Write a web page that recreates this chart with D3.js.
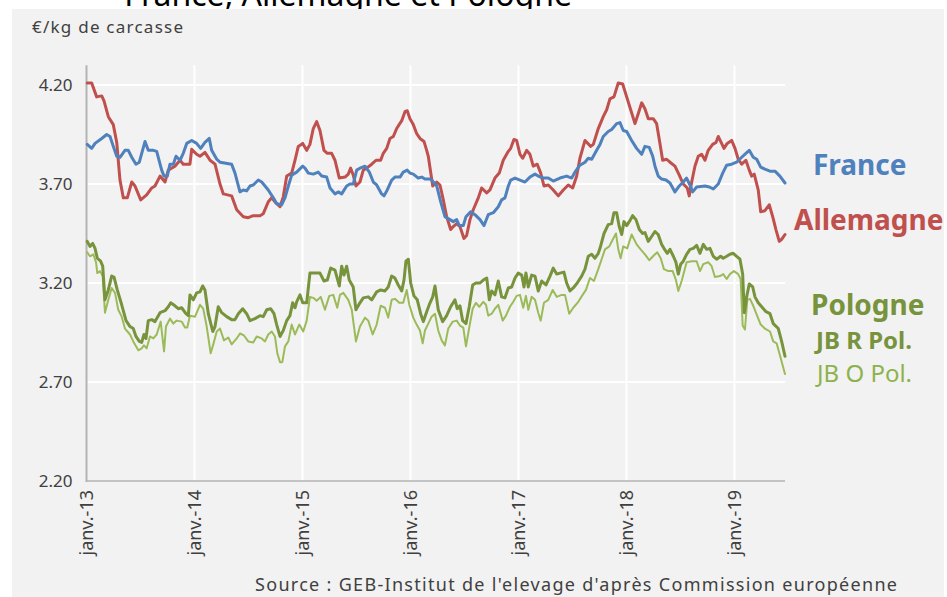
<!DOCTYPE html>
<html><head><meta charset="utf-8">
<script src="https://cdn.jsdelivr.net/npm/d3@7/dist/d3.min.js"></script>
<style>
html,body{margin:0;padding:0;background:#ffffff;}
svg{display:block;font-family:"Noto Sans",sans-serif;}
</style></head>
<body>
<svg id="chart" width="947" height="597"></svg>
<script>
// ---- data (decimal year, €/kg carcasse) ----
const yearTicks = [2013, 2014, 2015, 2016, 2017, 2018, 2019];
const yTicks = [2.20, 2.70, 3.20, 3.70, 4.20];
const seriesNames = ["France", "Allemagne", "Pologne", "JB R Pol.", "JB O Pol."];

const france = [[2013.007,3.90],[2013.048,3.88],[2013.079,3.905],[2013.141,3.93],[2013.187,3.95],[2013.218,3.94],[2013.248,3.89],[2013.280,3.84],[2013.310,3.835],[2013.356,3.87],[2013.387,3.87],[2013.419,3.835],[2013.458,3.80],[2013.489,3.81],[2013.542,3.915],[2013.572,3.87],[2013.619,3.87],[2013.650,3.865],[2013.696,3.77],[2013.718,3.74],[2013.748,3.74],[2013.773,3.80],[2013.804,3.80],[2013.829,3.84],[2013.866,3.82],[2013.896,3.855],[2013.928,3.905],[2013.974,3.92],[2014.020,3.905],[2014.057,3.88],[2014.097,3.91],[2014.137,3.93],[2014.159,3.87],[2014.206,3.825],[2014.236,3.81],[2014.344,3.80],[2014.375,3.755],[2014.421,3.66],[2014.452,3.67],[2014.483,3.665],[2014.514,3.69],[2014.544,3.695],[2014.591,3.72],[2014.622,3.71],[2014.653,3.69],[2014.683,3.67],[2014.730,3.63],[2014.761,3.60],[2014.807,3.595],[2014.838,3.63],[2014.869,3.69],[2014.900,3.745],[2014.946,3.76],[2015.002,3.79],[2015.023,3.78],[2015.054,3.755],[2015.100,3.75],[2015.146,3.76],[2015.178,3.74],[2015.224,3.735],[2015.255,3.68],[2015.301,3.65],[2015.331,3.66],[2015.363,3.65],[2015.409,3.69],[2015.440,3.70],[2015.470,3.70],[2015.502,3.77],[2015.532,3.78],[2015.579,3.79],[2015.619,3.76],[2015.656,3.71],[2015.687,3.695],[2015.733,3.65],[2015.755,3.64],[2015.785,3.67],[2015.826,3.72],[2015.856,3.735],[2015.903,3.735],[2015.933,3.76],[2015.970,3.77],[2015.995,3.755],[2016.026,3.75],[2016.072,3.73],[2016.104,3.735],[2016.134,3.725],[2016.181,3.725],[2016.196,3.72],[2016.243,3.69],[2016.280,3.61],[2016.319,3.535],[2016.366,3.52],[2016.396,3.51],[2016.428,3.52],[2016.452,3.49],[2016.489,3.49],[2016.514,3.535],[2016.557,3.56],[2016.597,3.545],[2016.644,3.52],[2016.681,3.49],[2016.720,3.545],[2016.767,3.555],[2016.813,3.585],[2016.844,3.62],[2016.875,3.63],[2016.906,3.69],[2016.928,3.72],[2016.968,3.73],[2017.014,3.72],[2017.060,3.71],[2017.106,3.735],[2017.153,3.75],[2017.183,3.74],[2017.230,3.73],[2017.276,3.73],[2017.322,3.715],[2017.384,3.73],[2017.446,3.74],[2017.493,3.73],[2017.523,3.76],[2017.569,3.795],[2017.616,3.81],[2017.646,3.83],[2017.678,3.825],[2017.724,3.87],[2017.755,3.90],[2017.785,3.94],[2017.831,3.965],[2017.863,3.975],[2017.909,4.005],[2017.940,4.01],[2017.970,3.97],[2018.002,3.965],[2018.048,3.92],[2018.094,3.88],[2018.141,3.85],[2018.171,3.89],[2018.211,3.885],[2018.243,3.84],[2018.264,3.79],[2018.294,3.74],[2018.326,3.725],[2018.366,3.72],[2018.403,3.705],[2018.449,3.66],[2018.489,3.69],[2018.526,3.71],[2018.557,3.73],[2018.588,3.695],[2018.613,3.66],[2018.650,3.685],[2018.727,3.69],[2018.767,3.685],[2018.804,3.675],[2018.850,3.70],[2018.891,3.755],[2018.928,3.795],[2018.974,3.80],[2019.020,3.81],[2019.067,3.835],[2019.106,3.855],[2019.137,3.87],[2019.174,3.835],[2019.206,3.825],[2019.243,3.785],[2019.282,3.775],[2019.329,3.765],[2019.375,3.765],[2019.421,3.74],[2019.468,3.705]];

const allemagne = [[2013.007,4.21],[2013.048,4.21],[2013.094,4.14],[2013.141,4.145],[2013.162,4.12],[2013.202,4.04],[2013.248,4.0],[2013.280,3.91],[2013.310,3.72],[2013.341,3.63],[2013.378,3.63],[2013.419,3.71],[2013.449,3.69],[2013.502,3.62],[2013.557,3.645],[2013.604,3.68],[2013.634,3.69],[2013.681,3.74],[2013.727,3.71],[2013.757,3.77],[2013.819,3.79],[2013.866,3.82],[2013.896,3.80],[2013.958,3.80],[2013.974,3.875],[2014.020,3.85],[2014.051,3.84],[2014.097,3.86],[2014.144,3.82],[2014.190,3.80],[2014.236,3.70],[2014.267,3.65],[2014.344,3.64],[2014.391,3.57],[2014.452,3.535],[2014.498,3.53],[2014.544,3.54],[2014.606,3.54],[2014.637,3.55],[2014.683,3.61],[2014.715,3.63],[2014.745,3.61],[2014.792,3.585],[2014.822,3.635],[2014.854,3.74],[2014.900,3.755],[2014.931,3.82],[2014.961,3.89],[2015.002,3.905],[2015.039,3.87],[2015.069,3.90],[2015.100,3.98],[2015.131,4.015],[2015.162,3.97],[2015.199,3.87],[2015.230,3.855],[2015.270,3.855],[2015.301,3.82],[2015.341,3.73],[2015.394,3.735],[2015.424,3.75],[2015.446,3.78],[2015.470,3.745],[2015.495,3.69],[2015.532,3.71],[2015.563,3.77],[2015.594,3.78],[2015.641,3.80],[2015.681,3.82],[2015.724,3.82],[2015.748,3.855],[2015.780,3.88],[2015.810,3.93],[2015.841,3.94],[2015.872,3.98],[2015.919,4.02],[2015.949,4.065],[2015.970,4.07],[2015.995,4.03],[2016.026,4.0],[2016.057,3.955],[2016.088,3.93],[2016.125,3.915],[2016.150,3.87],[2016.165,3.84],[2016.206,3.69],[2016.243,3.71],[2016.273,3.695],[2016.304,3.62],[2016.335,3.535],[2016.372,3.47],[2016.396,3.485],[2016.428,3.50],[2016.458,3.485],[2016.495,3.425],[2016.520,3.44],[2016.551,3.52],[2016.581,3.57],[2016.628,3.63],[2016.659,3.68],[2016.706,3.655],[2016.736,3.67],[2016.782,3.73],[2016.822,3.755],[2016.859,3.82],[2016.906,3.865],[2016.928,3.88],[2016.958,3.925],[2016.983,3.92],[2017.014,3.85],[2017.039,3.83],[2017.076,3.87],[2017.106,3.85],[2017.137,3.79],[2017.174,3.80],[2017.206,3.755],[2017.236,3.69],[2017.276,3.695],[2017.322,3.67],[2017.369,3.64],[2017.415,3.67],[2017.461,3.695],[2017.502,3.68],[2017.539,3.74],[2017.569,3.83],[2017.616,3.92],[2017.669,3.89],[2017.693,3.90],[2017.739,3.98],[2017.785,4.04],[2017.817,4.075],[2017.847,4.13],[2017.884,4.14],[2017.924,4.21],[2017.965,4.205],[2018.002,4.14],[2018.039,4.075],[2018.079,4.005],[2018.109,4.055],[2018.141,4.11],[2018.171,4.08],[2018.202,4.03],[2018.248,4.03],[2018.279,4.005],[2018.310,3.905],[2018.335,3.82],[2018.372,3.825],[2018.403,3.81],[2018.449,3.79],[2018.489,3.745],[2018.526,3.70],[2018.563,3.68],[2018.581,3.64],[2018.604,3.71],[2018.634,3.79],[2018.665,3.84],[2018.696,3.85],[2018.727,3.82],[2018.757,3.87],[2018.798,3.90],[2018.829,3.91],[2018.850,3.94],[2018.872,3.915],[2018.903,3.88],[2018.933,3.905],[2018.974,3.92],[2019.005,3.88],[2019.035,3.825],[2019.067,3.80],[2019.106,3.82],[2019.137,3.77],[2019.159,3.74],[2019.183,3.75],[2019.220,3.67],[2019.243,3.56],[2019.282,3.565],[2019.322,3.595],[2019.354,3.535],[2019.384,3.47],[2019.415,3.41],[2019.437,3.42],[2019.468,3.445]];

const jbRPol = [[2013.007,3.41],[2013.032,3.385],[2013.057,3.40],[2013.079,3.375],[2013.100,3.325],[2013.131,3.31],[2013.150,3.285],[2013.171,3.115],[2013.202,3.165],[2013.233,3.235],[2013.255,3.23],[2013.285,3.165],[2013.326,3.09],[2013.366,3.01],[2013.403,2.98],[2013.433,2.97],[2013.458,2.93],[2013.489,2.905],[2013.511,2.90],[2013.532,2.94],[2013.551,2.92],[2013.572,3.01],[2013.604,3.015],[2013.634,3.005],[2013.681,3.05],[2013.727,3.06],[2013.757,3.08],[2013.780,3.10],[2013.819,3.085],[2013.850,3.07],[2013.881,3.075],[2013.921,3.045],[2013.943,3.035],[2013.958,3.14],[2013.989,3.115],[2014.020,3.15],[2014.051,3.155],[2014.076,3.185],[2014.097,3.165],[2014.128,3.045],[2014.169,2.955],[2014.190,2.98],[2014.220,3.08],[2014.252,3.05],[2014.298,3.03],[2014.344,3.015],[2014.375,3.015],[2014.406,3.045],[2014.446,3.07],[2014.483,3.045],[2014.514,3.01],[2014.560,3.02],[2014.606,3.035],[2014.637,3.03],[2014.669,3.065],[2014.706,3.07],[2014.736,3.045],[2014.761,2.99],[2014.792,2.93],[2014.822,2.96],[2014.854,3.01],[2014.884,3.035],[2014.909,3.10],[2014.931,3.075],[2014.946,3.105],[2014.977,3.14],[2015.002,3.10],[2015.039,3.10],[2015.069,3.25],[2015.116,3.25],[2015.162,3.25],[2015.199,3.21],[2015.230,3.215],[2015.261,3.275],[2015.301,3.265],[2015.341,3.185],[2015.363,3.285],[2015.384,3.24],[2015.409,3.285],[2015.433,3.215],[2015.470,3.18],[2015.495,3.065],[2015.532,3.10],[2015.563,3.125],[2015.609,3.13],[2015.641,3.115],[2015.687,3.155],[2015.724,3.165],[2015.764,3.16],[2015.794,3.18],[2015.826,3.235],[2015.856,3.225],[2015.887,3.19],[2015.919,3.16],[2015.940,3.215],[2015.958,3.31],[2015.980,3.32],[2016.002,3.20],[2016.032,3.135],[2016.063,3.115],[2016.094,3.045],[2016.119,3.005],[2016.150,3.055],[2016.181,3.10],[2016.206,3.13],[2016.227,3.185],[2016.257,3.065],[2016.298,3.005],[2016.335,3.035],[2016.372,3.08],[2016.412,3.115],[2016.433,3.07],[2016.458,3.085],[2016.483,3.01],[2016.514,2.995],[2016.544,3.08],[2016.576,3.19],[2016.606,3.20],[2016.644,3.20],[2016.674,3.215],[2016.706,3.225],[2016.730,3.115],[2016.752,3.16],[2016.782,3.14],[2016.813,3.21],[2016.844,3.13],[2016.875,3.125],[2016.906,3.175],[2016.937,3.18],[2016.968,3.225],[2016.998,3.25],[2017.030,3.24],[2017.051,3.18],[2017.069,3.25],[2017.091,3.18],[2017.122,3.24],[2017.153,3.235],[2017.183,3.16],[2017.215,3.21],[2017.255,3.19],[2017.292,3.235],[2017.322,3.275],[2017.354,3.245],[2017.384,3.25],[2017.421,3.255],[2017.446,3.20],[2017.477,3.16],[2017.507,3.175],[2017.544,3.20],[2017.585,3.235],[2017.616,3.27],[2017.646,3.335],[2017.678,3.345],[2017.708,3.325],[2017.739,3.35],[2017.755,3.375],[2017.792,3.45],[2017.831,3.495],[2017.863,3.50],[2017.884,3.555],[2017.909,3.555],[2017.933,3.485],[2017.956,3.445],[2017.977,3.51],[2018.002,3.49],[2018.032,3.515],[2018.057,3.54],[2018.088,3.52],[2018.119,3.47],[2018.150,3.45],[2018.171,3.455],[2018.202,3.41],[2018.233,3.435],[2018.264,3.46],[2018.294,3.445],[2018.326,3.395],[2018.347,3.375],[2018.378,3.35],[2018.403,3.37],[2018.434,3.335],[2018.458,3.305],[2018.480,3.245],[2018.502,3.295],[2018.526,3.31],[2018.557,3.345],[2018.588,3.37],[2018.619,3.375],[2018.650,3.39],[2018.681,3.35],[2018.711,3.395],[2018.743,3.37],[2018.773,3.375],[2018.804,3.335],[2018.835,3.32],[2018.872,3.335],[2018.896,3.325],[2018.928,3.335],[2018.958,3.345],[2018.989,3.35],[2019.020,3.335],[2019.051,3.32],[2019.076,3.245],[2019.091,3.05],[2019.113,3.13],[2019.137,3.195],[2019.169,3.18],[2019.190,3.13],[2019.220,3.10],[2019.252,3.08],[2019.292,3.055],[2019.329,3.045],[2019.359,2.995],[2019.406,2.97],[2019.437,2.905],[2019.468,2.83]];

const jbOPol = [[2013.007,3.355],[2013.032,3.335],[2013.063,3.345],[2013.088,3.305],[2013.100,3.25],[2013.125,3.26],[2013.150,3.235],[2013.171,3.05],[2013.202,3.115],[2013.233,3.175],[2013.264,3.15],[2013.294,3.065],[2013.326,3.03],[2013.356,2.97],[2013.403,2.94],[2013.433,2.905],[2013.480,2.86],[2013.511,2.87],[2013.532,2.885],[2013.557,2.87],[2013.588,2.93],[2013.619,2.92],[2013.650,2.94],[2013.687,3.005],[2013.718,2.855],[2013.736,2.98],[2013.773,3.02],[2013.804,2.995],[2013.835,3.01],[2013.881,3.005],[2013.912,2.975],[2013.933,2.975],[2013.958,3.035],[2014.005,3.03],[2014.051,3.09],[2014.081,3.07],[2014.113,2.98],[2014.150,2.845],[2014.174,2.89],[2014.206,2.955],[2014.236,2.97],[2014.273,2.91],[2014.313,2.925],[2014.344,2.89],[2014.391,2.92],[2014.421,2.945],[2014.458,2.935],[2014.498,2.905],[2014.544,2.90],[2014.576,2.93],[2014.622,2.92],[2014.653,2.905],[2014.683,2.94],[2014.715,2.955],[2014.745,2.93],[2014.767,2.845],[2014.792,2.80],[2014.813,2.80],[2014.838,2.88],[2014.869,2.905],[2014.900,2.99],[2014.931,2.94],[2014.970,2.99],[2015.007,2.955],[2015.039,3.01],[2015.069,3.13],[2015.100,3.125],[2015.131,3.11],[2015.169,3.13],[2015.208,3.065],[2015.248,3.135],[2015.285,3.14],[2015.322,3.075],[2015.347,3.14],[2015.378,3.15],[2015.424,3.115],[2015.456,3.065],[2015.495,2.905],[2015.532,2.98],[2015.579,3.025],[2015.609,3.01],[2015.650,2.94],[2015.687,2.99],[2015.724,3.085],[2015.764,3.075],[2015.794,3.025],[2015.826,3.115],[2015.856,3.12],[2015.896,3.10],[2015.933,3.10],[2015.965,3.165],[2015.989,3.09],[2016.026,3.025],[2016.057,2.99],[2016.088,2.96],[2016.113,2.895],[2016.134,2.96],[2016.165,2.995],[2016.196,3.03],[2016.227,3.045],[2016.257,2.96],[2016.289,2.91],[2016.319,2.885],[2016.350,2.97],[2016.391,3.005],[2016.428,3.01],[2016.458,2.985],[2016.489,2.975],[2016.514,2.88],[2016.544,2.975],[2016.576,3.07],[2016.606,3.10],[2016.637,3.08],[2016.674,3.105],[2016.699,3.09],[2016.720,3.035],[2016.752,3.045],[2016.782,3.07],[2016.813,3.09],[2016.854,3.01],[2016.884,3.035],[2016.921,3.08],[2016.952,3.105],[2016.983,3.135],[2017.014,3.14],[2017.044,3.075],[2017.069,3.135],[2017.091,3.065],[2017.122,3.13],[2017.153,3.115],[2017.183,3.05],[2017.206,3.01],[2017.236,3.10],[2017.276,3.115],[2017.317,3.165],[2017.354,3.13],[2017.400,3.14],[2017.431,3.14],[2017.470,3.045],[2017.507,3.075],[2017.554,3.105],[2017.594,3.14],[2017.625,3.165],[2017.662,3.225],[2017.699,3.21],[2017.739,3.27],[2017.770,3.32],[2017.801,3.37],[2017.841,3.385],[2017.878,3.425],[2017.903,3.45],[2017.924,3.37],[2017.946,3.325],[2017.970,3.385],[2018.007,3.375],[2018.048,3.445],[2018.094,3.395],[2018.131,3.37],[2018.171,3.345],[2018.211,3.315],[2018.255,3.34],[2018.285,3.355],[2018.317,3.325],[2018.347,3.27],[2018.387,3.26],[2018.428,3.26],[2018.458,3.215],[2018.480,3.16],[2018.511,3.21],[2018.557,3.305],[2018.604,3.31],[2018.650,3.31],[2018.681,3.26],[2018.711,3.295],[2018.757,3.305],[2018.789,3.285],[2018.819,3.23],[2018.866,3.235],[2018.896,3.245],[2018.928,3.22],[2018.958,3.245],[2018.995,3.26],[2019.035,3.245],[2019.057,3.22],[2019.076,2.985],[2019.097,2.965],[2019.119,3.115],[2019.144,3.12],[2019.174,3.085],[2019.206,3.04],[2019.243,2.99],[2019.282,2.97],[2019.329,2.955],[2019.359,2.905],[2019.391,2.895],[2019.421,2.835],[2019.468,2.74]];

// ---- drawing ----
const svg = d3.select("#chart");
const W = 947, H = 597;

// title, only its lower edge shows above the panel (as in the reference)
svg.append("text").attr("x", 572).attr("y", 6).attr("text-anchor", "end")
  .attr("font-size", 32).attr("fill", "#000")
  .text("France, Allemagne et Pologne");

svg.append("rect").attr("x", 12).attr("y", 9).attr("width", 932).attr("height", H - 9).attr("fill", "#f2f2f2");

const x = d3.scaleLinear().domain([2013, 2019.468]).range([86.5, 785]);
const y = d3.scaleLinear().domain([2.2, 4.2]).range([481, 85]);
const yTop = y(4.3);

// gridlines
const grid = svg.append("g");
grid.selectAll("line.h").data(yTicks.slice(1)).join("line")
  .attr("x1", x(2013)).attr("x2", x.range()[1])
  .attr("y1", d => y(d)).attr("y2", d => y(d))
  .attr("stroke", "#ffffff").attr("stroke-width", 2);
grid.selectAll("line.v").data(yearTicks.slice(1)).join("line")
  .attr("x1", d => x(d)).attr("x2", d => x(d))
  .attr("y1", yTop).attr("y2", y(2.2))
  .attr("stroke", "#ffffff").attr("stroke-width", 2);

// axes
const yAxis = svg.append("g").attr("transform", `translate(${x(2013)},0)`)
  .call(d3.axisLeft(y).tickValues(yTicks).tickFormat(d3.format(".2f")).tickSize(0).tickPadding(14));
yAxis.select(".domain").remove();
yAxis.selectAll("text").attr("font-size", 17).attr("fill", "#404040").attr("font-family", "Noto Sans");

const xAxis = svg.append("g").attr("transform", `translate(0,${y(2.2)})`)
  .call(d3.axisBottom(x).tickValues(yearTicks).tickFormat(d => "janv.-" + String(d).slice(2)).tickSize(0));
xAxis.select(".domain").remove();
xAxis.selectAll("text").attr("font-size", 18).attr("fill", "#404040").attr("font-family", "Noto Sans")
  .attr("text-anchor", "end").attr("transform", "rotate(-90)").attr("x", -9).attr("y", 0).attr("dy", "0.35em");

svg.append("line").attr("x1", x(2013)).attr("x2", x(2013)).attr("y1", yTop).attr("y2", y(2.2) + 1)
  .attr("stroke", "#b3b3b3").attr("stroke-width", 2);
svg.append("line").attr("x1", x(2013)).attr("x2", x.range()[1]).attr("y1", y(2.2)).attr("y2", y(2.2))
  .attr("stroke", "#b3b3b3").attr("stroke-width", 1.5);

// lines
const line = d3.line().x(d => x(d[0])).y(d => y(d[1]));
const series = [
  {data: jbOPol, color: "#9bbb59", w: 2},
  {data: jbRPol, color: "#77933c", w: 3},
  {data: allemagne, color: "#c0504d", w: 3},
  {data: france, color: "#4f81bd", w: 3}
];
svg.append("g").selectAll("path").data(series).join("path")
  .attr("d", s => line(s.data)).attr("fill", "none")
  .attr("stroke", s => s.color).attr("stroke-width", s => s.w)
  .attr("stroke-linejoin", "round").attr("stroke-linecap", "round");

// labels
const labels = [
  {t: seriesNames[0], x: 813, y: 175, c: "#4f81bd", s: 28, b: 700},
  {t: seriesNames[1], x: 794, y: 230, c: "#c0504d", s: 28, b: 700},
  {t: seriesNames[2], x: 811, y: 315, c: "#77933c", s: 28, b: 700},
  {t: seriesNames[3], x: 816, y: 349, c: "#77933c", s: 24, b: 700},
  {t: seriesNames[4], x: 817, y: 382, c: "#8db24d", s: 24, b: 400}
];
svg.append("g").selectAll("text").data(labels).join("text")
  .attr("x", d => d.x).attr("y", d => d.y).attr("fill", d => d.c)
  .attr("font-size", d => d.s).attr("font-weight", d => d.b).text(d => d.t);

svg.append("text").attr("x", 32).attr("y", 33).attr("font-size", 17).attr("fill", "#404040")
  .attr("textLength", 151).attr("lengthAdjust", "spacing").text("€/kg de carcasse");

svg.append("text").attr("x", 255).attr("y", 591).attr("font-size", 18).attr("fill", "#404040")
  .attr("textLength", 642).attr("lengthAdjust", "spacing")
  .text("Source : GEB-Institut de l'elevage d'après Commission européenne");
</script>
</body></html>
